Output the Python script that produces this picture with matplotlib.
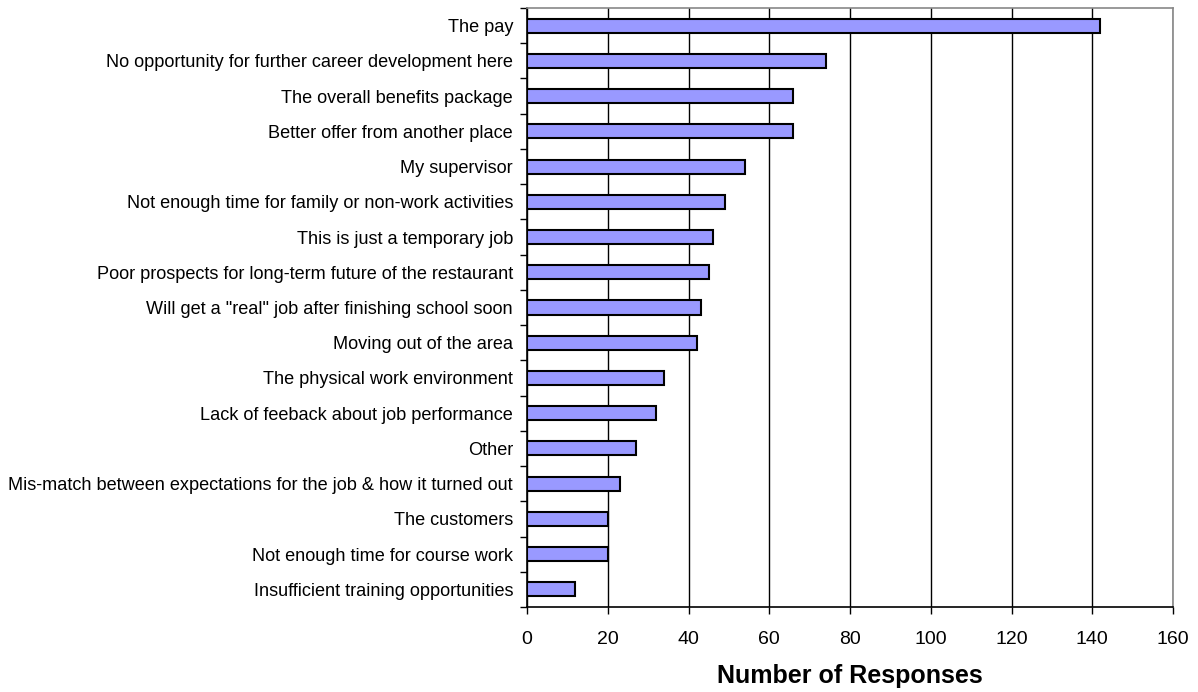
import matplotlib
matplotlib.use("Agg")
import matplotlib.pyplot as plt
import numpy as np

categories = [
    "The pay",
    "No opportunity for further career development here",
    "The overall benefits package",
    "Better offer from another place",
    "My supervisor",
    "Not enough time for family or non-work activities",
    "This is just a temporary job",
    "Poor prospects for long-term future of the restaurant",
    'Will get a "real" job after finishing school soon',
    "Moving out of the area",
    "The physical work environment",
    "Lack of feeback about job performance",
    "Other",
    "Mis-match between expectations for the job & how it turned out",
    "The customers",
    "Not enough time for course work",
    "Insufficient training opportunities",
]
responses = [142, 74, 66, 66, 54, 49, 46, 45, 43, 42, 34, 32, 27, 23, 20, 20, 12]
xticks = [0, 20, 40, 60, 80, 100, 120, 140, 160]
xlabel = "Number of Responses"

plt.rcParams['font.family'] = ['Liberation Sans', 'DejaVu Sans']

fig = plt.figure(figsize=(11.98, 6.92), dpi=100)
ax = fig.add_axes([527/1198, 1 - 607/692, (1173-527)/1198, (607-8)/692])

n = len(categories)
y = np.arange(n)
ax.barh(y, responses, height=0.4, color="#9999FF", edgecolor="black", linewidth=1.5, zorder=3)
ax.set_ylim(n - 0.5, -0.5)
ax.set_xlim(0, 160)
ax.set_xticks(xticks)
ax.set_xticklabels([str(v) for v in xticks], fontsize=14)
ax.set_yticks(y)
ax.set_yticklabels(categories, fontsize=13.1)
ax.tick_params(axis='y', which='major', length=0, pad=10)
ax.set_yticks(np.arange(-0.5, n, 1.0), minor=True)
ax.tick_params(axis='y', which='minor', length=5, width=1, direction='out', color='black')
ax.tick_params(axis='x', which='major', length=5, width=1, direction='out', pad=12)
ax.xaxis.grid(True, color='black', linewidth=1, zorder=0)
ax.set_axisbelow(True)
for s in ['top', 'right']:
    ax.spines[s].set_color('#888888')
    ax.spines[s].set_linewidth(1.2)
for s in ['left', 'bottom']:
    ax.spines[s].set_color('black')
    ax.spines[s].set_linewidth(1.2)
ax.set_xlabel(xlabel, fontsize=18, fontweight='bold')
ax.xaxis.set_label_coords(0.5, -0.095)
ax.xaxis.label.set_va('top')

fig.savefig("out.png", dpi=100)
